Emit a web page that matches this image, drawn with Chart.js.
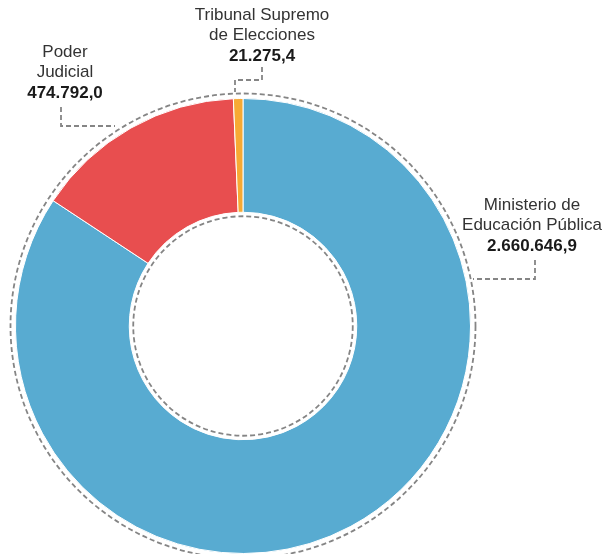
<!DOCTYPE html>
<html lang="es">
<head>
    <meta charset="UTF-8">
    <title>Gasto por institución</title>
    <script src="https://cdn.jsdelivr.net/npm/chart.js"></script>
    <style>
        body { margin: 0; background: #fff; }
        #wrap { width: 605px; height: 554px; position: relative; }
    </style>
</head>
<body>
    <div id="wrap">
        <canvas id="donut" width="605" height="554"></canvas>
    </div>
    <script>
        // Data (millones de colones)
        const categories = ['Ministerio de Educación Pública', 'Poder Judicial', 'Tribunal Supremo de Elecciones'];
        const values = [2660646.9, 474792.0, 21275.4];
        const valueLabels = ['2.660.646,9', '474.792,0', '21.275,4'];
        const colors = ['#58abd1', '#e84e4f', '#f7a934'];

        // label text lines, center position and dashed leader path
        const labelBoxes = [
            { lines: ['Ministerio de', 'Educación Pública'], x: 532, y: 205,
              leader: [[535, 260], [535, 279], [473, 279]] },
            { lines: ['Poder', 'Judicial'], x: 65, y: 52,
              leader: [[61, 107], [61, 126], [115, 126]] },
            { lines: ['Tribunal Supremo', 'de Elecciones'], x: 262, y: 15,
              leader: [[262, 67], [262, 80], [235, 80], [235, 92]] }
        ];

        const FONT = '"Liberation Sans", Arial, sans-serif';

        const decorations = {
            id: 'decorations',
            afterDatasetsDraw(chart) {
                const ctx = chart.ctx;
                const arc = chart.getDatasetMeta(0).data[0];
                ctx.save();
                ctx.strokeStyle = '#858585';
                ctx.lineWidth = 1.8;
                ctx.setLineDash([5, 3]);
                // dashed rings
                ctx.beginPath();
                ctx.arc(arc.x, arc.y, arc.outerRadius + 5, 0, Math.PI * 2);
                ctx.stroke();
                ctx.beginPath();
                ctx.arc(arc.x, arc.y, arc.innerRadius - 4, 0, Math.PI * 2);
                ctx.stroke();

                // leaders
                labelBoxes.forEach(b => {
                    ctx.beginPath();
                    b.leader.forEach((p, i) => i ? ctx.lineTo(p[0], p[1]) : ctx.moveTo(p[0], p[1]));
                    ctx.stroke();
                });
                ctx.setLineDash([]);

                // texts
                ctx.textAlign = 'center';
                ctx.textBaseline = 'middle';
                labelBoxes.forEach((b, i) => {
                    ctx.fillStyle = '#333333';
                    ctx.font = '17px ' + FONT;
                    b.lines.forEach((t, j) => ctx.fillText(t, b.x, b.y + j * 20.5));
                    ctx.fillStyle = '#1a1a1a';
                    ctx.font = 'bold 17px ' + FONT;
                    ctx.fillText(valueLabels[i], b.x, b.y + b.lines.length * 20.5);
                });
                ctx.restore();
            }
        };

        new Chart(document.getElementById('donut'), {
            type: 'doughnut',
            data: {
                labels: categories,
                datasets: [{
                    data: values,
                    backgroundColor: colors,
                    borderColor: '#ffffff',
                    borderWidth: 1
                }]
            },
            options: {
                responsive: false,
                animation: false,
                cutout: '50%',
                layout: { padding: { left: 15, right: 134, top: 98, bottom: 0 } },
                plugins: {
                    legend: { display: false },
                    tooltip: { enabled: false }
                }
            },
            plugins: [decorations]
        });
    </script>
</body>
</html>
